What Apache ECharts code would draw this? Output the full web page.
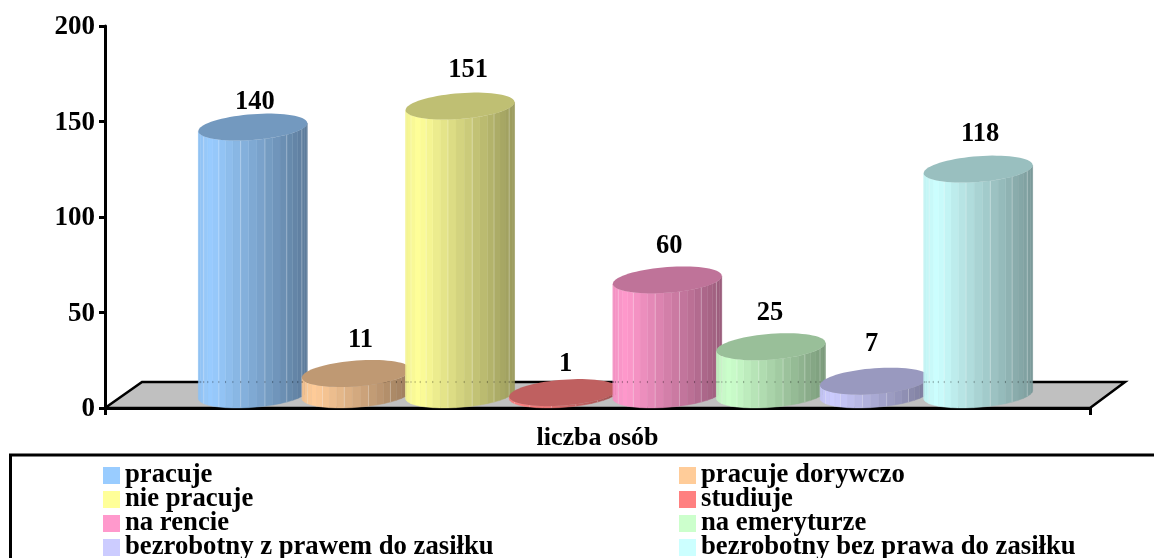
<!DOCTYPE html>
<html><head><meta charset="utf-8">
<style>html,body{margin:0;padding:0;background:#fff}#c{width:1154px;height:558px}</style>
<script src="https://cdn.jsdelivr.net/npm/echarts@6/dist/echarts.min.js"></script>
</head><body><div id="c"></div>
<script>
var categoryLabels = ['liczba osób'];
var seriesNames = ['pracuje','pracuje dorywczo','nie pracuje','studiuje','na rencie','na emeryturze','bezrobotny z prawem do zasiłku','bezrobotny bez prawa do zasiłku'];
var seriesValues = [140,11,151,1,60,25,7,118];
var seriesColors = ['#99CCFF','#FFCC99','#FFFF99','#FF8080','#FF99CC','#CCFFCC','#CCCCFF','#CCFFFF'];
var yTicks = {min:0,max:200,interval:50};
var labelNudge = [[2,11],[4,3],[8,0],[2,7],[2,2],[-1,2],[-3,-1],[2,1]];

var FONT = '"Liberation Serif","Times New Roman",serif';
var DEPTH_X = 18, DEPTH_Y = 13.5, FLOOR_Y = 26, ELL_B = 12.9, ELL_C = 4, STRIPS = 21, BAND_RATIO = 0.1052, RADIUS_RATIO = 0.0553;

function shade(hex, f){
  var n = parseInt(hex.slice(1),16);
  return 'rgb(' + [(n>>16)&255,(n>>8)&255,n&255].map(function(v){return Math.round(v*f);}).join(',') + ')';
}
function sideFactor(u){ return u < 0.12 ? 0.95 + u*0.42 : 1 - (u-0.12)*0.45; }

function cylinder(idx){
  return function(params, api){
    var band = api.size([1,0])[0];
    var base = api.coord([api.value(0),0]);
    var top = api.coord([api.value(0),api.value(1)]);
    var cx = base[0] + DEPTH_X + (idx-3.5)*band*BAND_RATIO;
    var yb = base[1] - DEPTH_Y, yt = top[1] - DEPTH_Y;
    var A = band*RADIUS_RATIO;
    var floorBack = base[1] - FLOOR_Y;
    var kids = [];
    function pt(t,cy){ return [cx + A*Math.cos(t), cy - ELL_C*Math.cos(t) + ELL_B*Math.sin(t)]; }
    for (var i=0;i<STRIPS;i++){
      var t0 = Math.PI*i/STRIPS, t1 = Math.PI*(i+1)/STRIPS;
      var u = (STRIPS-1-i+0.5)/STRIPS; u = (1-Math.cos(u*Math.PI))/2;
      var c = shade(seriesColors[idx], sideFactor(u));
      kids.push({type:'polygon',shape:{points:[pt(t0,yt),pt(t1,yt),pt(t1,yb),pt(t0,yb)]},style:{fill:c,stroke:c,lineWidth:0.4}});
    }
    for (var j=1;j<STRIPS;j++){
      var t = Math.PI*j/STRIPS, q = pt(t,yt), r = pt(t,yb);
      if (j%3===0) {
        kids.push({type:'line',shape:{x1:q[0],y1:q[1],x2:r[0],y2:r[1]},style:{stroke:'rgba(255,255,255,0.28)',lineWidth:1}});
      }
      if (q[1] < floorBack-1 && r[1] > floorBack+1) {
        kids.push({type:'rect',shape:{x:q[0]-0.5,y:floorBack-1,width:1,height:2},style:{fill:'rgba(0,0,0,0.25)'}});
      }
    }
    var ring = [];
    for (var k=0;k<72;k++){ ring.push(pt(2*Math.PI*k/72,yt)); }
    kids.push({type:'polygon',shape:{points:ring},style:{fill:shade(seriesColors[idx],0.75)}});
    var n = labelNudge[idx];
    kids.push({type:'text',style:{text:String(api.value(1)),x:cx+n[0],y:yt-ELL_B-23+n[1],font:'bold 26.5px '+FONT,fill:'#000',align:'center',verticalAlign:'middle'}});
    return {type:'group',children:kids};
  };
}

function floorItem(params, api){
  var band = api.size([1,0])[0];
  var o = api.coord([api.value(0),0]);
  var l = o[0]-band/2, r = o[0]+band/2, y = o[1];
  return {type:'polygon',shape:{points:[[l,y],[l+37,y-FLOOR_Y],[r+35,y-FLOOR_Y],[r,y]]},style:{fill:'#C0C0C0',stroke:'#000',lineWidth:2.5}};
}

var series = [{type:'custom',name:'podłoga',silent:true,z:1,data:[[0,0]],encode:{x:0,y:1},renderItem:floorItem}];
seriesNames.forEach(function(name,i){
  series.push({type:'custom',name:name,z:2+i,silent:true,itemStyle:{color:seriesColors[i]},data:[[0,seriesValues[i]]],encode:{x:0,y:1},renderItem:cylinder(i)});
});
function legendCol(left,names){
  return {left:left,top:462,height:200,orient:'vertical',padding:0,itemGap:-3,itemWidth:17,itemHeight:17,icon:'rect',align:'left',selectedMode:false,
    data:names,textStyle:{fontFamily:FONT,fontWeight:'bold',fontSize:26.7,color:'#000'}};
}
var chart = echarts.init(document.getElementById('c'),null,{renderer:'canvas'});
chart.setOption({
  animation:false,
  backgroundColor:'#fff',
  color:seriesColors,
  grid:{left:105,right:64,top:26,bottom:150,containLabel:false},
  xAxis:{type:'category',data:categoryLabels,
    axisLine:{lineStyle:{color:'#000',width:3}},
    axisTick:{show:true,length:7,lineStyle:{color:'#000',width:3}},
    axisLabel:{margin:17,color:'#000',fontFamily:FONT,fontWeight:'bold',fontSize:26}},
  yAxis:{type:'value',min:yTicks.min,max:yTicks.max,interval:yTicks.interval,splitLine:{show:false},
    axisLine:{show:true,lineStyle:{color:'#000',width:3}},
    axisTick:{show:true,length:6,lineStyle:{color:'#000',width:3}},
    axisLabel:{margin:10,verticalAlign:'top',padding:[-12,0,0,0],color:'#000',fontFamily:FONT,fontWeight:'bold',fontSize:27}},
  legend:[legendCol(103,seriesNames.filter(function(n,i){return i%2===0;})),legendCol(679,seriesNames.filter(function(n,i){return i%2===1;}))],
  graphic:[{type:'rect',silent:true,z:0,shape:{x:10.5,y:455,width:1160,height:120},style:{fill:'none',stroke:'#000',lineWidth:3}}],
  series:series
});
</script></body></html>
